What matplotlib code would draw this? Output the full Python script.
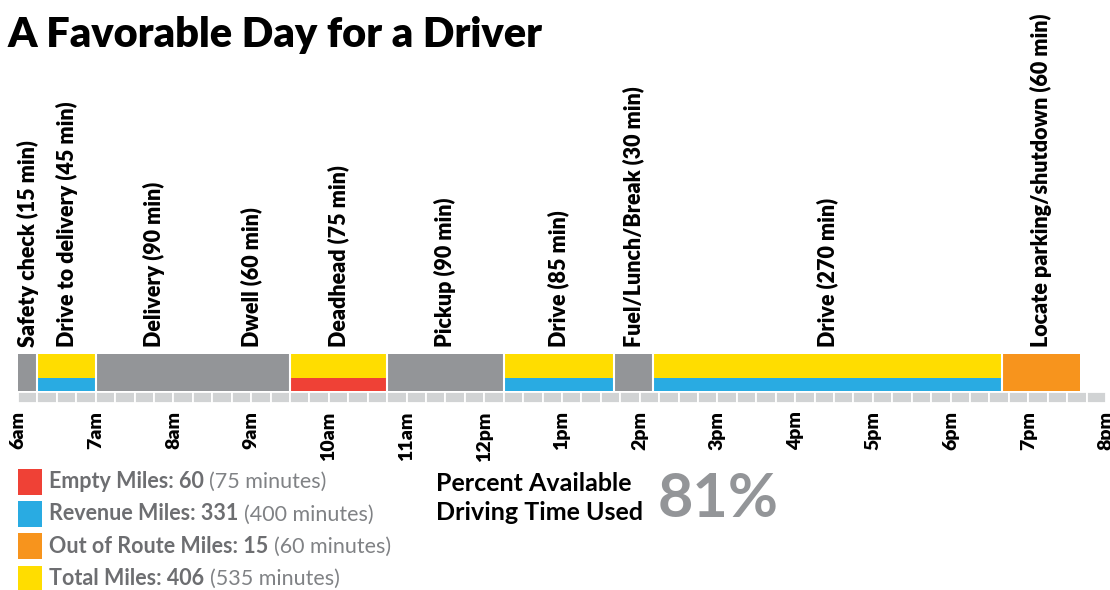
import numpy as np
import matplotlib
matplotlib.use("Agg")
import matplotlib.pyplot as plt

plt.rcParams["font.family"] = ["Lato", "DejaVu Sans"]

# activities through the day, in order, starting at 6am
activities = [
    "Safety check (15 min)",
    "Drive to delivery (45 min)",
    "Delivery (90 min)",
    "Dwell (60 min)",
    "Deadhead (75 min)",
    "Pickup (90 min)",
    "Drive (85 min)",
    "Fuel/Lunch/Break (30 min)",
    "Drive (270 min)",
    "Locate parking/shutdown (60 min)",
]
minutes = [15, 45, 90, 60, 75, 90, 85, 30, 270, 60]
kinds = ["stop", "revenue", "stop", "stop", "empty", "stop", "revenue", "stop", "revenue", "out"]

hour_labels = ["6am", "7am", "8am", "9am", "10am", "11am", "12pm", "1pm",
               "2pm", "3pm", "4pm", "5pm", "6pm", "7pm", "8pm"]

legend_names = ["Empty Miles: 60", "Revenue Miles: 331",
                "Out of Route Miles: 15", "Total Miles: 406"]
legend_minutes = ["(75 minutes)", "(400 minutes)", "(60 minutes)", "(535 minutes)"]

YELLOW = "#ffdd00"
BLUE = "#29abe2"
RED = "#ef4136"
ORANGE = "#f7941d"
GRAY = "#939598"
LIGHT = "#d1d3d4"
legend_colors = [RED, BLUE, ORANGE, YELLOW]

# top colour / bottom colour for each kind
palette = {
    "stop": (GRAY, GRAY),
    "revenue": (YELLOW, BLUE),
    "empty": (YELLOW, RED),
    "out": (ORANGE, ORANGE),
}

W, H = 1110, 590
fig = plt.figure(figsize=(W / 100, H / 100), dpi=100)

ax = fig.add_axes([18 / W, 1 - 403 / H, 1088 / W, 49 / H])
total = len(hour_labels) * 60 - 60
ax.set_xlim(0, total)
ax.set_ylim(0, 49)

# quarter-hour strip
quarters = np.arange(0, total, 15)
ax.barh(5.75, 15, left=quarters, height=11.5, color=LIGHT,
        edgecolor="white", linewidth=1.3)

starts = np.concatenate([[0], np.cumsum(minutes)[:-1]])
for s, m, k in zip(starts, minutes, kinds):
    top, bottom = palette[k]
    if top == bottom:
        ax.barh((12.5 + 49) / 2, m, left=s, height=36.5, color=top, linewidth=0)
    else:
        ax.barh((12.5 + 25) / 2, m, left=s, height=12.5, color=bottom, linewidth=0)
        ax.barh((25 + 49) / 2, m, left=s, height=24, color=top, linewidth=0)

# white gaps where the activity type changes
for i in range(1, len(kinds)):
    if kinds[i] != kinds[i - 1]:
        ax.vlines(starts[i], 12.5, 49, color="white", linewidth=1.5)

for s, m, lab in zip(starts, minutes, activities):
    ax.annotate(lab, xy=(s + m / 2, 49), xytext=(0, 5), textcoords="offset points",
                rotation=90, ha="center", va="bottom", fontsize=15.5,
                fontweight="heavy", annotation_clip=False)

ax.set_xticks(np.arange(0, total + 1, 60))
ax.set_xticklabels(hour_labels, rotation=90, fontsize=14, fontweight="heavy")
ax.tick_params(length=0, pad=6)
ax.set_yticks([])
for sp in ax.spines.values():
    sp.set_visible(False)

fig.text(8 / W, 1 - 47 / H, "A Favorable Day for a Driver", fontsize=30,
         fontweight="heavy", va="baseline")

# legend
lax = fig.add_axes([18 / W, 0, 400 / W, 122 / H])
lax.set_xlim(0, 400)
lax.set_ylim(3.36, -0.43)
lax.axis("off")
rows = np.arange(len(legend_names))
lax.barh(rows, 24, left=0, height=0.8, color=legend_colors)
for i, (name, mins) in enumerate(zip(legend_names, legend_minutes)):
    t = lax.text(31, i + 0.2, name, fontsize=15.5, fontweight="bold",
                 color="#6d6e71", va="baseline")
    lax.annotate(mins, xy=(1, i + 0.2), xycoords=(t, "data"), xytext=(4, 0),
                 textcoords="offset points", fontsize=15.5, color="#808285",
                 va="baseline")

fig.text(436 / W, 1 - 472 / H, "Percent Available\nDriving Time Used",
         fontsize=18, fontweight="bold", va="top", linespacing=1.3)
fig.text(658 / W, 1 - 517 / H, "81%", fontsize=44, fontweight="bold",
         color=GRAY, va="baseline")

fig.savefig("out.png", dpi=100)
